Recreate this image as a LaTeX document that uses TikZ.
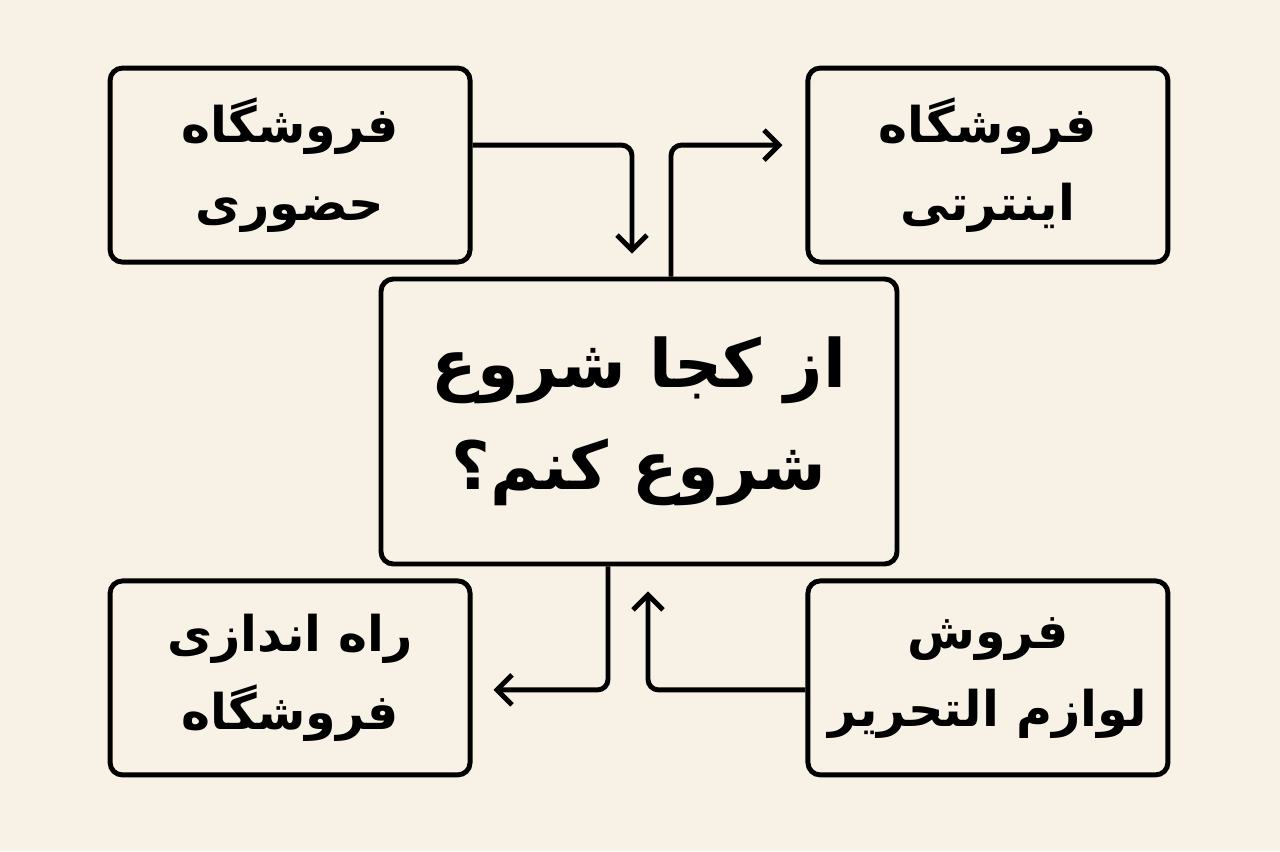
\documentclass[tikz,border=0pt]{standalone}
\usepackage{fontspec}
\newfontfamily\persianfont[Script=Arabic]{DejaVu Sans}
\TeXXeTstate=1
\usetikzlibrary{positioning,arrows.meta}
\definecolor{cream}{RGB}{248,241,229}
\tikzset{
    sidebox/.style={draw, line width=2.8pt, rounded corners=7pt, minimum width=7.2cm, minimum height=3.88cm, align=center, font=\persianfont\bfseries\fontsize{28}{44}\selectfont},
    mainbox/.style={draw, line width=2.8pt, rounded corners=7pt, minimum width=10.32cm, minimum height=5.7cm, align=center, font=\persianfont\bfseries\fontsize{38}{58}\selectfont},
    arrow/.style={-{Straight Barb[length=3mm,width=6mm]}, line width=2.8pt, rounded corners=6pt},
}
\begin{document}
\begin{tikzpicture}
\fill[cream] (0,0) rectangle (25.6,-17.02);

\node[mainbox] (main) at (12.78,-8.43) {\beginR از کجا شروع\endR\\\beginR شروع کنم؟\endR};

\node[sidebox, above left=0.24cm and -1.88cm of main] (shop) {\beginR فروشگاه\endR\\\beginR حضوری\endR};
\node[sidebox, above right=0.24cm and -1.88cm of main] (online) {\beginR فروشگاه\endR\\\beginR اینترتی\endR};
\node[sidebox, below left=0.24cm and -1.88cm of main] (launch) {\beginR راه اندازی\endR\\\beginR فروشگاه\endR};
\node[sidebox, below right=0.24cm and -1.88cm of main] (stationery) {\beginR فروش\endR\\\beginR لوازم التحریر\endR};

% arrows in and out of the middle box
\draw[arrow] ([yshift=4mm]shop.east) -| ([xshift=-1.4mm,yshift=4.6mm]main.north);
\draw[arrow] ([xshift=6.4mm]main.north) |- ([xshift=-4.6mm,yshift=4mm]online.west);
\draw[arrow] ([xshift=-6.2mm]main.south) |- ([xshift=4.2mm,yshift=-2.4mm]launch.east);
\draw[arrow] ([yshift=-2.4mm]stationery.west) -| ([xshift=1.8mm,yshift=-5mm]main.south);

\end{tikzpicture}
\end{document}
